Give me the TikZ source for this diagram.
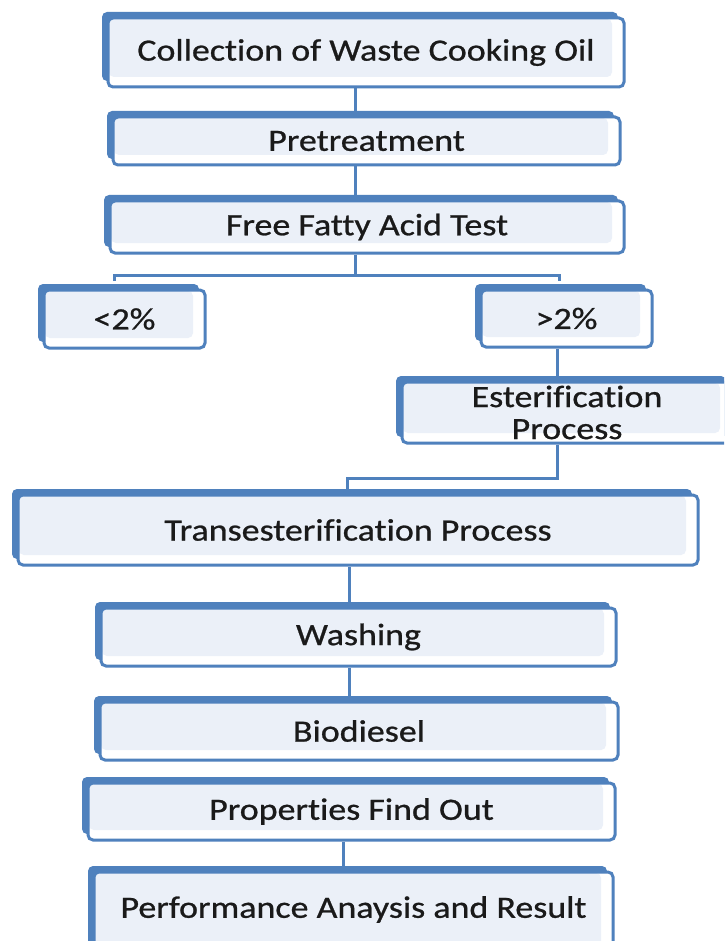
\documentclass[tikz,border=0pt]{standalone}
\usepackage{fontspec}
\setmainfont[FakeStretch=1.16, FakeBold=0.8, Ligatures={NoCommon}]{Carlito}
\usetikzlibrary{shadows,backgrounds}
\definecolor{boxblue}{HTML}{4F81BD}
\definecolor{boxfill}{HTML}{EBF0F8}
\definecolor{textcol}{HTML}{1A1A1A}
\begin{document}
\begin{tikzpicture}[x=1pt,y=-1pt,
  pbox/.style={draw=boxblue, line width=3pt, rounded corners=5pt, fill=white,
    inner sep=0pt, text=textcol, font=\fontsize{31}{33}\selectfont, align=center,
    general shadow={fill=boxblue, shadow xshift=-6pt, shadow yshift=6pt},
    path picture={\fill[boxfill] ([xshift=1pt,yshift=-1pt]path picture bounding box.north west)
      rectangle ([xshift=-12pt,yshift=10pt]path picture bounding box.south east);}},
  conn/.style={draw=boxblue, line width=3pt}]
\useasboundingbox (0,0) rectangle (724,941);
\clip (0,0) rectangle (724,941);

\node[pbox, minimum width=516pt, minimum height=69pt] (coll) at (366,52.5) {Collection of Waste Cooking Oil};
\node[pbox, minimum width=507pt, minimum height=48pt] (pre) at (366.5,141) {Pretreatment};
\node[pbox, minimum width=514pt, minimum height=52pt] (ffa) at (367,227) {Free Fatty Acid Test};
\node[pbox, minimum width=161pt, minimum height=58pt] (lt) at (124.5,319) {<2\%};
\node[pbox, minimum width=171pt, minimum height=57pt] (gt) at (566.5,318.5) {>2\%};
\node[pbox, minimum width=330pt, minimum height=61pt, font=\fontsize{31}{32}\selectfont] (est) at (567,412.5) {Esterification\\Process};
\node[pbox, minimum width=680pt, minimum height=70pt] (trans) at (358,530) {Transesterification Process};
\node[pbox, minimum width=515pt, minimum height=58pt] (wash) at (358.5,637) {Washing};
\node[pbox, minimum width=518pt, minimum height=58pt] (bio) at (359,731) {Biodiesel};
\node[pbox, minimum width=527pt, minimum height=57pt] (prop) at (351.5,811.5) {Properties Find Out};
\node[pbox, minimum width=519pt, minimum height=88pt, text depth=18pt] (perf) at (353.5,916) {Performance Anaysis and Result};

\coordinate (x1) at (355,0);
\coordinate (x3) at (355,0);
\coordinate (hl) at (114,275);
\coordinate (hr) at (559,275);
\coordinate (sl) at (114,281);
\coordinate (sr) at (559,281);
\coordinate (x4) at (557,0);
\coordinate (h5) at (347,478);
\coordinate (x6) at (349,0);
\coordinate (x8) at (343,0);

\begin{scope}[on background layer]
\fill[white] (0,0) rectangle (724,941);
\draw[conn] (coll.south -| x1) -- (pre.north -| x1);
\draw[conn] (pre.south -| x1) -- (ffa.north -| x1);
\draw[conn] (ffa.south -| x3) -- (x3 |- hl);
\draw[conn] (sl) -- (hl) -- (hr) -- (sr);
\draw[conn] (gt.south -| x4) -- (est.north -| x4);
\draw[conn] (est.south -| x4) -- (x4 |- h5) -- (h5) -- (trans.north -| h5);
\draw[conn] (trans.south -| x6) -- (wash.north -| x6);
\draw[conn] (wash.south -| x6) -- (bio.north -| x6);
\draw[conn] (prop.south -| x8) -- (perf.north -| x8);
\end{scope}
\end{tikzpicture}
\end{document}
